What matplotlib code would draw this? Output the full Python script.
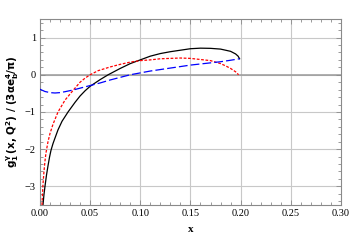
import numpy as np
import matplotlib
matplotlib.use("Agg")
import matplotlib.pyplot as plt
from matplotlib.ticker import MultipleLocator

# ── Curves ───────────────────────────────────────────────────────────────────
BLACK_X = [0.003, 0.004, 0.005, 0.0065, 0.008, 0.0095, 0.011, 0.013, 0.015,
           0.018, 0.022, 0.028, 0.035, 0.04, 0.045, 0.05, 0.06, 0.068, 0.08,
           0.09, 0.10, 0.11, 0.12, 0.13, 0.14, 0.15, 0.16, 0.17, 0.18, 0.19,
           0.195, 0.1975, 0.199]
BLACK_Y = [-3.5, -3.22, -3.0, -2.7, -2.45, -2.22, -2.03, -1.85, -1.7,
           -1.48, -1.25, -1.0, -0.74, -0.57, -0.43, -0.31, -0.13, 0.0, 0.17,
           0.30, 0.40, 0.50, 0.57, 0.62, 0.66, 0.70, 0.715, 0.71, 0.69, 0.63,
           0.56, 0.50, 0.43]

RED_X = [0.002, 0.003, 0.004, 0.005, 0.006, 0.008, 0.010, 0.013, 0.018, 0.025,
         0.033, 0.04, 0.045, 0.05, 0.058, 0.07, 0.08, 0.09, 0.10, 0.11, 0.12,
         0.13, 0.14, 0.15, 0.16, 0.17, 0.18, 0.185, 0.19, 0.195, 0.198]
RED_Y = [-3.5, -2.95, -2.6, -2.32, -2.1, -1.8, -1.58, -1.33, -1.0, -0.68,
         -0.42, -0.2, -0.09, 0.0, 0.11, 0.21, 0.28, 0.34, 0.38, 0.40, 0.43,
         0.44, 0.45, 0.44, 0.41, 0.38, 0.30, 0.24, 0.17, 0.08, 0.0]

BLUE_X = [0.0, 0.005, 0.01, 0.015, 0.02, 0.025, 0.033, 0.04, 0.05, 0.06, 0.07,
          0.08, 0.09, 0.10, 0.11, 0.12, 0.13, 0.14, 0.15, 0.16, 0.17, 0.18,
          0.19, 0.199]
BLUE_Y = [-0.39, -0.45, -0.48, -0.49, -0.48, -0.455, -0.41, -0.36, -0.29,
          -0.22, -0.14, -0.07, 0.0, 0.05, 0.10, 0.14, 0.18, 0.22, 0.26, 0.29,
          0.32, 0.35, 0.39, 0.43]

X_TICKS = [0.00, 0.05, 0.10, 0.15, 0.20, 0.25, 0.30]
Y_TICKS = [-3, -2, -1, 0, 1]

FRAME = "#8a8a8a"
GRID = "#c8c8c8"

plt.rcParams["mathtext.fontset"] = "dejavusans"

fig = plt.figure(figsize=(3.6, 2.4), dpi=100)
ax = fig.add_axes([0.111, 0.146, 0.836, 0.775])

ax.set_xlim(0, 0.30)
ax.set_ylim(-3.5, 1.5)

# grid + zero line
for xv in X_TICKS[1:-1]:
    ax.axvline(xv, color=GRID, lw=0.8, zorder=0)
for yv in Y_TICKS:
    ax.axhline(yv, color=GRID, lw=0.8, zorder=0)
ax.axhline(0, color="#9a9a9a", lw=1.1, zorder=1)

ax.plot(BLACK_X, BLACK_Y, color="black", lw=0.9, zorder=3)
ax.plot(RED_X, RED_Y, color="red", lw=0.9, ls=(0, (2.2, 1.3)), zorder=3)
ax.plot(BLUE_X, BLUE_Y, color="blue", lw=0.9, ls=(0, (7, 2.5)), zorder=3)

ax.set_xticks(X_TICKS)
ax.set_xticklabels(["%.2f" % v for v in X_TICKS])
ax.set_yticks(Y_TICKS)
ax.set_yticklabels([str(v).replace("-", "\u2212") for v in Y_TICKS])
ax.xaxis.set_minor_locator(MultipleLocator(0.01))
ax.yaxis.set_minor_locator(MultipleLocator(0.2))
ax.tick_params(which="both", direction="in", top=True, right=True,
               color=FRAME, width=0.6)
ax.tick_params(which="major", length=3.5, labelsize=7.5, pad=3)
ax.tick_params(which="minor", length=2)
for lab in ax.get_xticklabels() + ax.get_yticklabels():
    lab.set_family("Liberation Serif")
for sp in ax.spines.values():
    sp.set_color(FRAME)
    sp.set_linewidth(0.8)

ax.set_xlabel("x", family="Liberation Serif", fontweight="bold",
              fontsize=8, labelpad=5)
ax.set_ylabel(r"$\mathbf{g_1^{\gamma}\,(x,\,Q^2)\ /\ (3\alpha e_b^4/\pi)}$",
              fontsize=7.5, labelpad=3)

fig.savefig("out.png", dpi=100)
